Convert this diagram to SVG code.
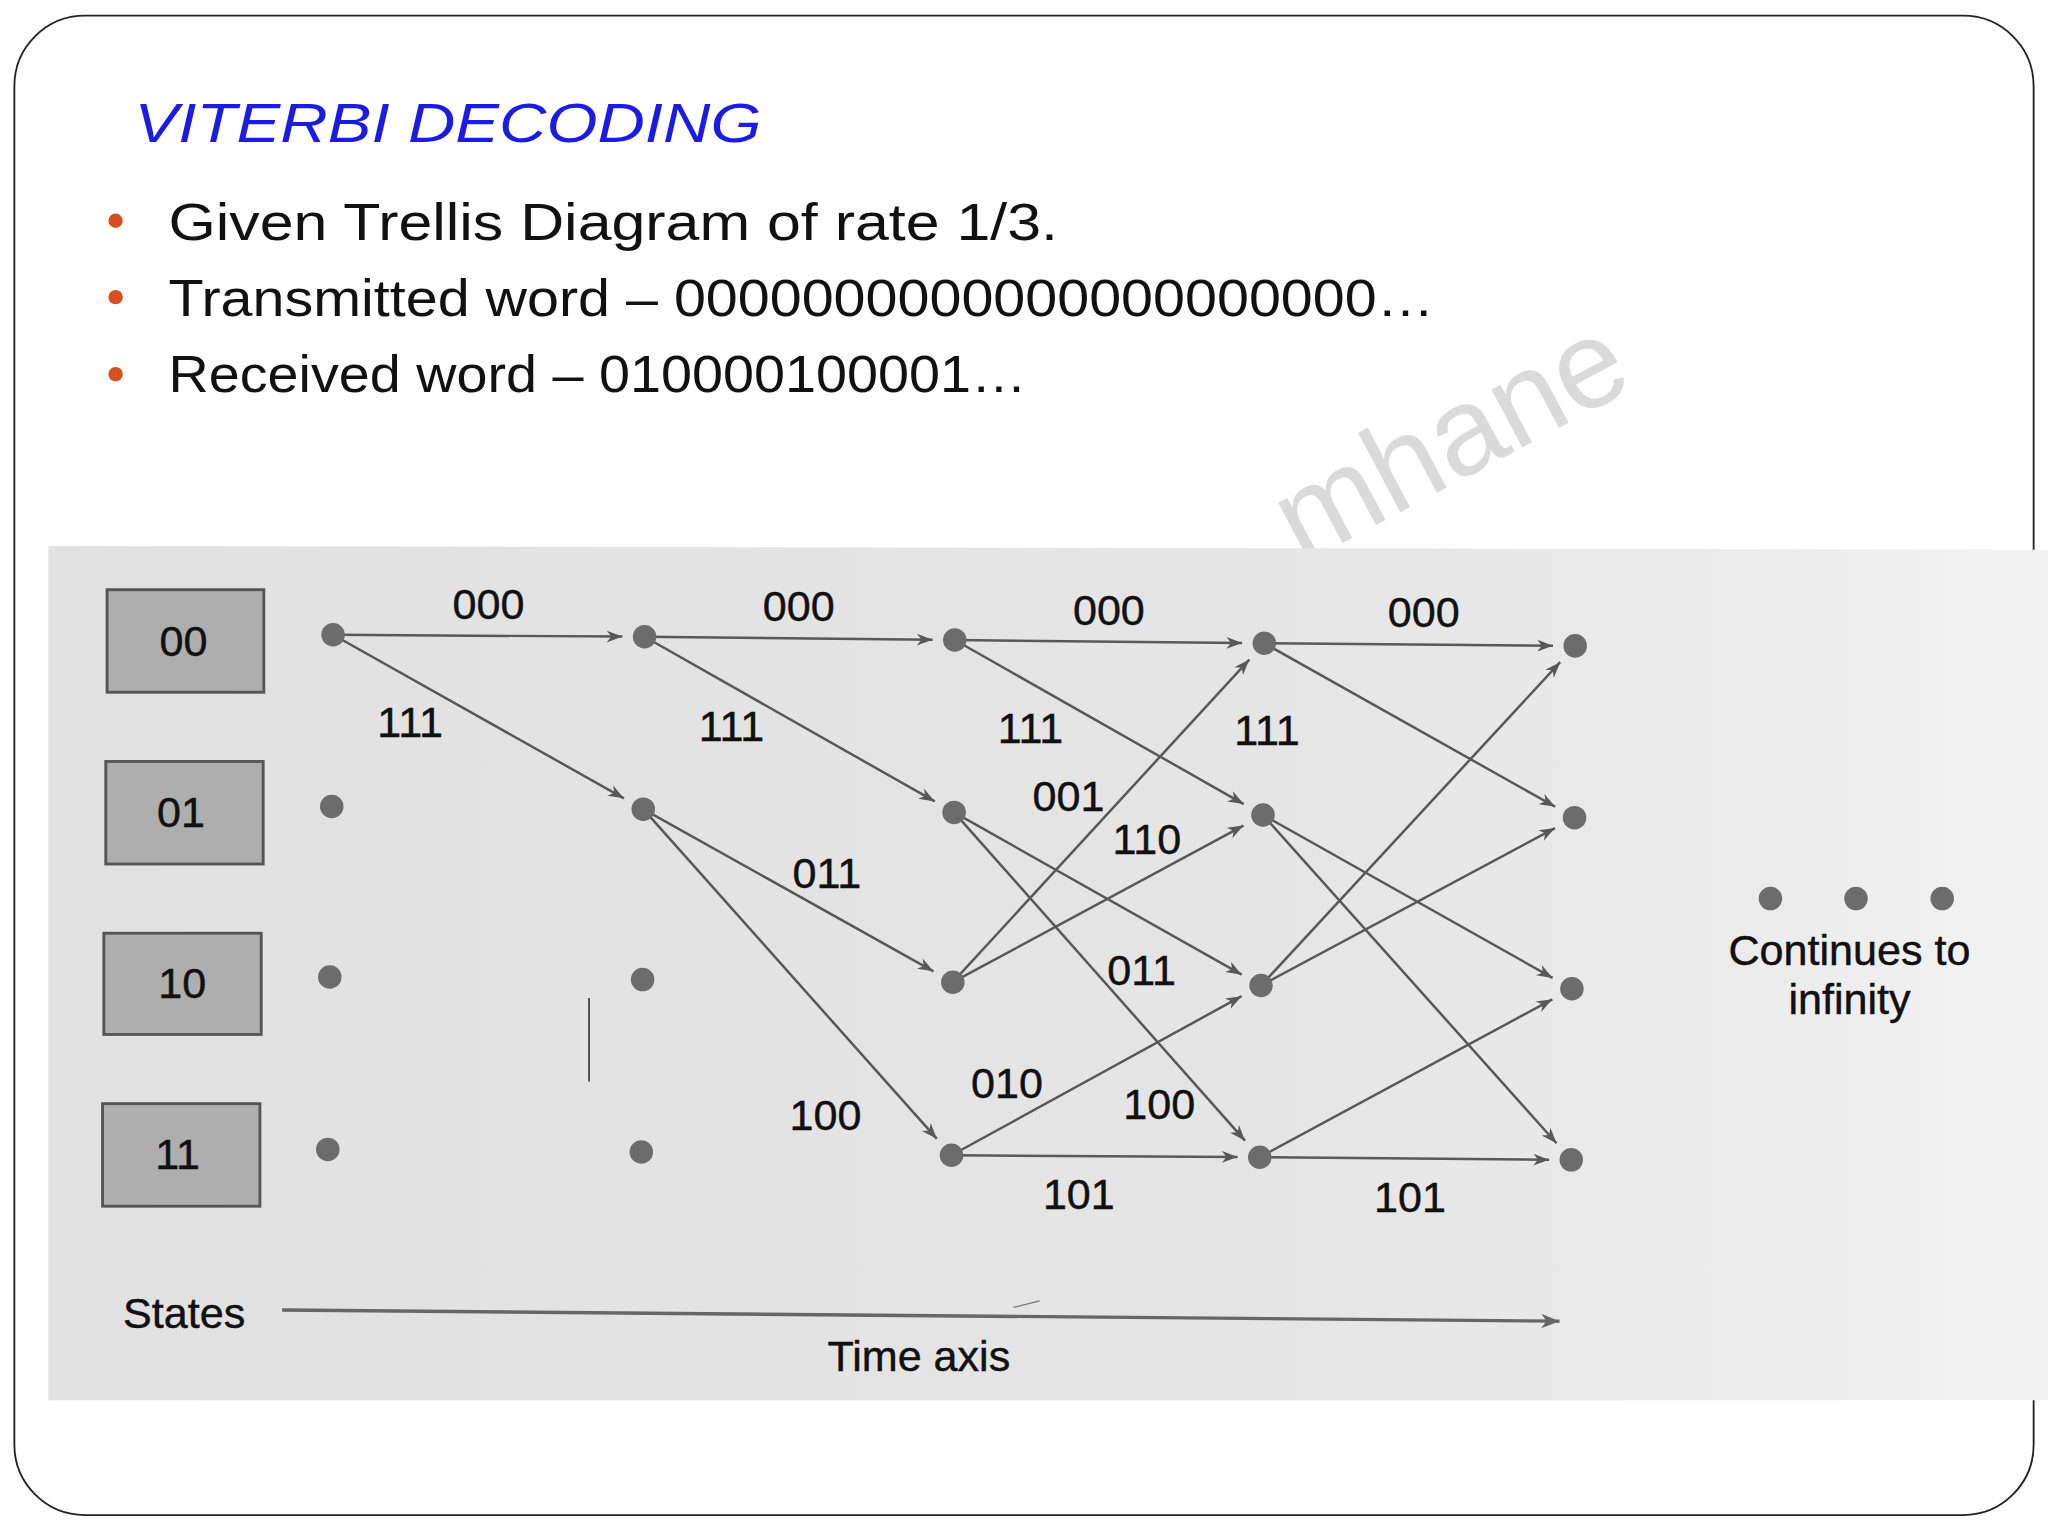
<svg xmlns="http://www.w3.org/2000/svg" width="2048" height="1536" viewBox="0 0 2048 1536">
<style>
  .lbl { font-family: "Liberation Sans", Arial, sans-serif; font-size: 33px; fill: #111; stroke: #111; stroke-width: 0.35; text-anchor: middle; }
  .hand { font-family: "Liberation Sans", Arial, sans-serif; font-size: 40px; fill: #111; }
  .edge { stroke: #585858; stroke-width: 1.9; fill: none; marker-end: url(#ah); }
  .dot { fill: #6c6c6c; }
  .box { fill: #aeaeae; stroke: #555; stroke-width: 2.2; }
  .bullet { fill: #d4511f; }
</style>
<defs>
  <marker id="ah" markerUnits="userSpaceOnUse" viewBox="-13 -6 15 12" markerWidth="15" markerHeight="12" refX="0" refY="0" orient="auto" overflow="visible">
    <path d="M-12,-4.5 L0,0 L-12,4.5 L-8.5,0 Z" fill="#585858"/>
  </marker>
  <marker id="ah2" markerUnits="userSpaceOnUse" viewBox="-15 -7 17 14" markerWidth="17" markerHeight="14" refX="0" refY="0" orient="auto" overflow="visible">
    <path d="M-14,-5.5 L0,0 L-14,5.5 L-10,0 Z" fill="#666"/>
  </marker>
  <linearGradient id="photo" x1="0" y1="0" x2="1" y2="0">
    <stop offset="0" stop-color="#e1e1e1"/>
    <stop offset="0.6" stop-color="#e5e5e5"/>
    <stop offset="0.85" stop-color="#ebebeb"/>
    <stop offset="1" stop-color="#f3f3f3"/>
  </linearGradient>
</defs>
<g transform="scale(1.306122)">
  <rect x="0" y="0" width="1568" height="1176" fill="#ffffff"/>
  <g id="slide-frame">
    <rect x="11" y="12" width="1546" height="1148" rx="54" ry="54" fill="#ffffff" stroke="#222" stroke-width="1.4"/>
  </g>
  <g id="watermark">
    <text x="1253" y="296" transform="rotate(-28 1253 296)" text-anchor="end" font-family="Liberation Sans, Arial, sans-serif" font-size="95" fill="#dadada">mhane</text>
  </g>
  <g id="title">
    <text x="103" y="109" font-family="Liberation Sans, Arial, sans-serif" font-size="42" font-style="italic" fill="#1c1ce0" textLength="480" lengthAdjust="spacingAndGlyphs">VITERBI DECODING</text>
  </g>
  <g id="bullets">
    <circle class="bullet" cx="88.5" cy="169" r="5.5"/>
    <circle class="bullet" cx="88.5" cy="227.5" r="5.5"/>
    <circle class="bullet" cx="88.5" cy="286.5" r="5.5"/>
    <text class="hand" x="129" y="184" textLength="681" lengthAdjust="spacingAndGlyphs">Given Trellis Diagram of rate 1/3.</text>
    <text class="hand" x="129" y="242" textLength="969" lengthAdjust="spacingAndGlyphs">Transmitted word – 0000000000000000000000…</text>
    <text class="hand" x="129" y="300" textLength="657" lengthAdjust="spacingAndGlyphs">Received word – 010000100001…</text>
  </g>
  <g id="photo-bg">
    <polygon points="37,418 1568,421 1568,1072 37,1072" fill="url(#photo)"/>
    <line x1="451" y1="764" x2="451" y2="828" stroke="#444" stroke-width="1.4"/>
  </g>
  <g id="state-00">
    <rect class="box" x="82" y="451.5" width="120" height="78.5"/>
    <text class="lbl" x="140.5" y="502.5">00</text>
  </g>
  <g id="state-01">
    <rect class="box" x="81" y="583" width="120.5" height="78.5"/>
    <text class="lbl" x="138.5" y="633.5">01</text>
  </g>
  <g id="state-10">
    <rect class="box" x="79.5" y="714.5" width="120.5" height="77.5"/>
    <text class="lbl" x="139.5" y="764">10</text>
  </g>
  <g id="state-11">
    <rect class="box" x="78.5" y="845" width="120.5" height="78.5"/>
    <text class="lbl" x="136" y="895">11</text>
  </g>
  <g id="connectors">
    <line class="edge" x1="255" y1="486" x2="476.5" y2="487.4"/>
    <line class="edge" x1="255" y1="486" x2="477.7" y2="611.2"/>
    <line class="edge" x1="493.5" y1="487.5" x2="714" y2="489.8"/>
    <line class="edge" x1="493.5" y1="487.5" x2="715.7" y2="613.6"/>
    <line class="edge" x1="492.5" y1="619.5" x2="714.7" y2="743.7"/>
    <line class="edge" x1="492.5" y1="619.5" x2="717.2" y2="871.8"/>
    <line class="edge" x1="731" y1="490" x2="951" y2="492.3"/>
    <line class="edge" x1="731" y1="490" x2="952.2" y2="615.6"/>
    <line class="edge" x1="730.5" y1="622" x2="950.7" y2="746.2"/>
    <line class="edge" x1="730.5" y1="622" x2="953.2" y2="873.3"/>
    <line class="edge" x1="729.5" y1="752" x2="956.5" y2="505"/>
    <line class="edge" x1="729.5" y1="752" x2="952" y2="632.1"/>
    <line class="edge" x1="728.5" y1="884.5" x2="950.6" y2="762.7"/>
    <line class="edge" x1="728.5" y1="884.5" x2="947.5" y2="885.9"/>
    <line class="edge" x1="968" y1="492.5" x2="1189" y2="494.4"/>
    <line class="edge" x1="968" y1="492.5" x2="1190.7" y2="617.7"/>
    <line class="edge" x1="967" y1="624" x2="1188.7" y2="748.7"/>
    <line class="edge" x1="967" y1="624" x2="1191.7" y2="875.3"/>
    <line class="edge" x1="965.5" y1="754.5" x2="1194.5" y2="507"/>
    <line class="edge" x1="965.5" y1="754.5" x2="1190.5" y2="634"/>
    <line class="edge" x1="964.5" y1="886" x2="1188.5" y2="765.1"/>
    <line class="edge" x1="964.5" y1="886" x2="1186" y2="887.9"/>
    <line x1="216" y1="1003" x2="1194" y2="1011.5" stroke="#666" stroke-width="2.6" marker-end="url(#ah2)"/>
    <line x1="776" y1="1001" x2="796" y2="996" stroke="#777" stroke-width="1"/>
  </g>
  <g id="trellis-nodes">
    <circle class="dot" cx="255" cy="486" r="9"/>
    <circle class="dot" cx="254" cy="617.5" r="9"/>
    <circle class="dot" cx="252.5" cy="748" r="9"/>
    <circle class="dot" cx="251" cy="880" r="9"/>
    <circle class="dot" cx="493.5" cy="487.5" r="9"/>
    <circle class="dot" cx="492.5" cy="619.5" r="9"/>
    <circle class="dot" cx="492" cy="750" r="9"/>
    <circle class="dot" cx="491" cy="882" r="9"/>
    <circle class="dot" cx="731" cy="490" r="9"/>
    <circle class="dot" cx="730.5" cy="622" r="9"/>
    <circle class="dot" cx="729.5" cy="752" r="9"/>
    <circle class="dot" cx="728.5" cy="884.5" r="9"/>
    <circle class="dot" cx="968" cy="492.5" r="9"/>
    <circle class="dot" cx="967" cy="624" r="9"/>
    <circle class="dot" cx="965.5" cy="754.5" r="9"/>
    <circle class="dot" cx="964.5" cy="886" r="9"/>
    <circle class="dot" cx="1206" cy="494.5" r="9"/>
    <circle class="dot" cx="1205.5" cy="626" r="9"/>
    <circle class="dot" cx="1203.5" cy="757" r="9"/>
    <circle class="dot" cx="1203" cy="888" r="9"/>
  </g>
  <g id="edge-labels">
    <text class="lbl" x="374" y="474">000</text>
    <text class="lbl" x="314" y="564.5">111</text>
    <text class="lbl" x="611.5" y="475.5">000</text>
    <text class="lbl" x="560" y="567">111</text>
    <text class="lbl" x="633" y="680">011</text>
    <text class="lbl" x="632" y="865.5">100</text>
    <text class="lbl" x="849" y="478.5">000</text>
    <text class="lbl" x="789" y="569">111</text>
    <text class="lbl" x="818" y="621">001</text>
    <text class="lbl" x="878" y="654">110</text>
    <text class="lbl" x="874" y="754">011</text>
    <text class="lbl" x="771" y="841">010</text>
    <text class="lbl" x="887.5" y="857">100</text>
    <text class="lbl" x="826" y="926">101</text>
    <text class="lbl" x="1090" y="480">000</text>
    <text class="lbl" x="970" y="570.5">111</text>
    <text class="lbl" x="1079.5" y="928">101</text>
  </g>
  <g id="continuation">
    <circle class="dot" cx="1355.5" cy="688" r="9"/>
    <circle class="dot" cx="1421" cy="688" r="9"/>
    <circle class="dot" cx="1487" cy="688" r="9"/>
    <text class="lbl" x="1416" y="738.5">Continues to</text>
    <text class="lbl" x="1416" y="776">infinity</text>
  </g>
  <g id="axis-labels">
    <text class="lbl" x="141" y="1017">States</text>
    <text class="lbl" x="703.5" y="1049.5">Time axis</text>
  </g>
</g>
</svg>
